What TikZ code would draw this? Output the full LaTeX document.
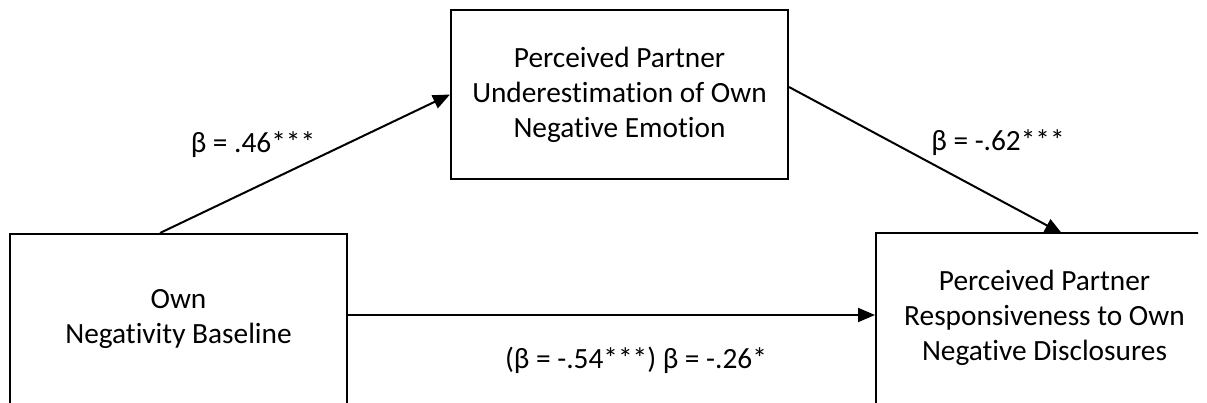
\documentclass[tikz,border=0pt]{standalone}
\usepackage{fontspec}
\setmainfont{Carlito}[Ligatures=NoCommon]
\usetikzlibrary{arrows.meta,calc}
\pgfdeclarelayer{bg}
\pgfsetlayers{bg,main}
\begin{document}
\begin{tikzpicture}[x=0.75pt,y=-0.75pt,
  every node/.style={font=\fontsize{22pt}{26.25pt}\selectfont},
  varbox/.style={draw,line width=1.5pt,fill=white,align=center,inner sep=0pt,
    minimum width=337*0.75pt,minimum height=171*0.75pt},
  conn/.style={line width=1.5pt,-{Triangle[length=12.75pt,width=10.5pt]}},
  coef/.style={anchor=base,inner sep=0pt}]
\useasboundingbox (0,0) rectangle (1207,403);
\begin{scope}
\clip (0,0) rectangle (1198,402);
\node[varbox] (lbox) at (178.5,319.5) {Own\\Negativity Baseline};
\node[varbox,minimum height=169*0.75pt] (tbox) at (619.5,94.5) {Perceived Partner\\Underestimation of Own\\Negative Emotion};
\node[varbox] (rbox) at (1044.5,318) {Perceived Partner\\Responsiveness to Own\\Negative Disclosures};
\end{scope}
\node[coef] (c1) at (253,152) {β = .46***};
\node[coef] (c2) at (998,150) {β = -.62***};
\node[coef] (c3) at (636,368) {(β = -.54***) β = -.26*};
\begin{pgfonlayer}{bg}
\draw[conn] ($(lbox.north)+(-18.5,0)$) -- (tbox.west);
\draw[conn] ($(tbox.east)+(0,-7.5)$) -- ($(rbox.north)+(17.5,2)$);
\draw[conn] ($(lbox.east)+(0,-4.5)$) -- ($(rbox.west |- lbox.east)+(0,-4.5)$);
\end{pgfonlayer}
\end{tikzpicture}
\end{document}
